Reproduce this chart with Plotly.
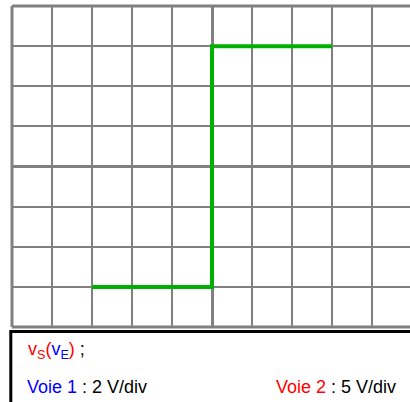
import plotly.graph_objects as go

# mode XY : voie 1 = v_E (2 V/div), voie 2 = v_S (5 V/div)
v_e = [-6, 0, 0, 6]
v_s = [-15, -15, 15, 15]
x_range = [-10, 9.9]
y_range = [-20, 20]

GRID = "#808080"
FONT = "Liberation Sans, Arial, sans-serif"

fig = go.Figure()
fig.add_trace(go.Scatter(x=v_e, y=v_s, mode="lines",
                         line=dict(color="#00b000", width=4),
                         hoverinfo="skip", showlegend=False))

axis_common = dict(showticklabels=False, ticks="", showline=False,
                   showgrid=True, gridcolor=GRID, gridwidth=2,
                   zeroline=True, zerolinecolor=GRID, zerolinewidth=3,
                   fixedrange=True)
fig.update_xaxes(range=x_range, dtick=2, tick0=0, **axis_common)
fig.update_yaxes(range=y_range, dtick=5, tick0=0, **axis_common)

shapes = [
    # bords de l'écran
    dict(type="line", xref="paper", yref="paper", x0=0, x1=0, y0=0, y1=1,
         line=dict(color=GRID, width=3)),
    dict(type="line", xref="paper", yref="paper", x0=0, x1=1.05, y0=1, y1=1,
         line=dict(color=GRID, width=3)),
    dict(type="line", xref="paper", yref="paper", x0=0, x1=1.05, y0=0, y1=0,
         line=dict(color=GRID, width=3)),
    # cadre de légende
    dict(type="rect", xref="paper", yref="paper", x0=-0.003, x1=1.05,
         y0=-0.014, y1=-0.4, line=dict(color="black", width=3)),
]

annotations = [
    dict(xref="paper", yref="paper", x=0.035, y=-0.0717,
         xanchor="left", yanchor="middle", showarrow=False,
         text=("<span style='color:#ff0000'>v<sub>S</sub>(</span>"
               "<span style='color:#0000ff'>v<sub>E</sub></span>"
               "<span style='color:#ff0000'>)</span> ;")),
    dict(xref="paper", yref="paper", x=0.0327, y=-0.187,
         xanchor="left", yanchor="middle", showarrow=False,
         text="<span style='color:#0000ff'>Voie 1</span> : 2 V/div"),
    dict(xref="paper", yref="paper", x=0.970, y=-0.187,
         xanchor="right", yanchor="middle", showarrow=False,
         text="<span style='color:#ff0000'>Voie 2</span> : 5 V/div"),
]

fig.update_layout(width=410, height=402,
                  margin=dict(l=12, r=0, t=6, b=75, autoexpand=False),
                  plot_bgcolor="white", paper_bgcolor="white",
                  font=dict(family=FONT, size=18, color="black"),
                  shapes=shapes, annotations=annotations)

fig.write_html("out.html", config={"displayModeBar": False},
               post_script="document.body.style.margin='0';")
